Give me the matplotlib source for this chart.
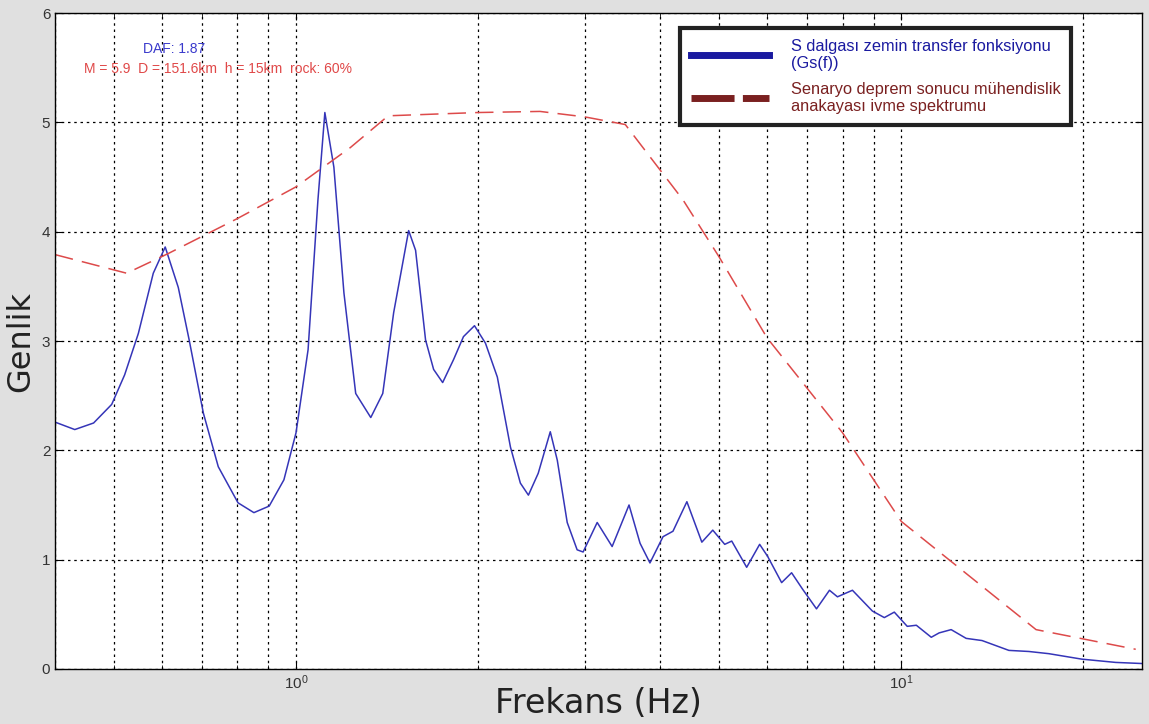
import numpy as np
import matplotlib.pyplot as plt
from matplotlib.lines import Line2D
from matplotlib.ticker import LogLocator, NullFormatter

plt.rcParams['font.family'] = ['Liberation Sans', 'DejaVu Sans']

# S-wave soil transfer function
freq_gs = [0.399, 0.431, 0.463, 0.496, 0.521, 0.549, 0.581, 0.608, 0.639, 0.666,
           0.703, 0.744, 0.802, 0.852, 0.903, 0.955, 1.0, 1.047, 1.087, 1.116,
           1.155, 1.200, 1.255, 1.329, 1.391, 1.450, 1.535, 1.576, 1.637, 1.688,
           1.747, 1.821, 1.891, 1.972, 2.056, 2.151, 2.261, 2.348, 2.421, 2.513,
           2.631, 2.702, 2.806, 2.914, 2.981, 3.145, 3.329, 3.550, 3.702, 3.844,
           4.040, 4.196, 4.424, 4.683, 4.882, 5.109, 5.247, 5.554, 5.835, 6.015,
           6.344, 6.589, 6.870, 7.244, 7.610, 7.845, 8.305, 8.960, 9.376, 9.739,
           10.23, 10.59, 11.21, 11.55, 12.09, 12.80, 13.60, 15.06, 16.25, 17.53,
           19.87, 22.61, 24.95]
amp_gs = [2.26, 2.19, 2.25, 2.42, 2.69, 3.07, 3.62, 3.86, 3.49, 3.01,
          2.34, 1.85, 1.52, 1.43, 1.49, 1.73, 2.16, 2.92, 4.29, 5.09,
          4.59, 3.44, 2.52, 2.30, 2.52, 3.26, 4.01, 3.83, 3.01, 2.74,
          2.62, 2.83, 3.04, 3.14, 2.98, 2.67, 2.03, 1.70, 1.59, 1.79,
          2.17, 1.91, 1.34, 1.09, 1.07, 1.34, 1.12, 1.50, 1.15, 0.97,
          1.21, 1.26, 1.53, 1.16, 1.27, 1.14, 1.17, 0.93, 1.14, 1.03,
          0.79, 0.88, 0.73, 0.55, 0.72, 0.66, 0.72, 0.53, 0.47, 0.52,
          0.39, 0.40, 0.29, 0.33, 0.36, 0.28, 0.26, 0.17, 0.16, 0.14,
          0.09, 0.06, 0.05]

# scenario earthquake bedrock acceleration spectrum
freq_sa = [0.40, 0.525, 0.615, 0.80, 1.0, 1.23, 1.42, 2.0, 2.53, 3.0, 3.5,
           4.36, 5.0, 6.0, 8.0, 10.0, 16.7, 24.4]
amp_sa = [3.79, 3.62, 3.80, 4.12, 4.41, 4.77, 5.06, 5.09, 5.10, 5.05, 4.98,
          4.29, 3.77, 3.03, 2.16, 1.35, 0.36, 0.18]

label_gs = "S dalgası zemin transfer fonksiyonu\n(Gs(f))"
label_sa = "Senaryo deprem sonucu mühendislik\nanakayası ivme spektrumu"

fig = plt.figure(figsize=(11.49, 7.24), dpi=100, facecolor='#e0e0e0')
ax = fig.add_axes([0.048, 0.076, 0.946, 0.906])
ax.set_facecolor('white')

ax.plot(freq_gs, amp_gs, color='#3535b8', lw=1.1)
ax.plot(freq_sa, amp_sa, color='#dd4a4a', lw=1.1, dashes=(12, 6))

ax.set_xscale('log')
ax.set_xlim(0.4, 25)
ax.set_ylim(0, 6)
ax.set_yticks(range(0, 7))
ax.xaxis.set_major_locator(LogLocator(base=10, numticks=5))
ax.xaxis.set_minor_locator(LogLocator(base=10, subs=np.arange(2, 10), numticks=20))
ax.xaxis.set_minor_formatter(NullFormatter())

ax.grid(True, which='both', axis='x', color='black', linestyle=(0, (2, 3)), lw=0.9)
ax.grid(True, which='major', axis='y', color='black', linestyle=(0, (2, 3)), lw=0.9)
ax.tick_params(which='both', direction='in', top=True, right=True, labelsize=11,
               labelcolor='#333333')
ax.tick_params(which='major', length=5)
ax.tick_params(which='minor', length=3)
for s in ax.spines.values():
    s.set_linewidth(1.0)

ax.set_xlabel('Frekans (Hz)', fontsize=24, color='#222222', labelpad=-4,
              family='DejaVu Sans')
ax.set_ylabel('Genlik', fontsize=23, color='#222222', labelpad=4,
              family='DejaVu Sans')

ax.text(0.081, 0.945, 'DAF: 1.87', transform=ax.transAxes, color='#3a3acc',
        fontsize=10, va='center')
ax.text(0.027, 0.915, 'M = 5.9  D = 151.6km  h = 15km  rock: 60%',
        transform=ax.transAxes, color='#e04848', fontsize=10, va='center')

handles = [Line2D([], [], color='#1a1aa0', lw=5),
           Line2D([], [], color='#7a2020', lw=5, dashes=(6.2, 1.2))]
leg = ax.legend(handles, [label_gs, label_sa], loc='upper left',
                bbox_to_anchor=(0.575, 0.977), borderaxespad=0, fontsize=11.8,
                handlelength=4.8, handletextpad=1.3, labelspacing=0.65,
                borderpad=0.65, fancybox=False, framealpha=1, edgecolor='#222222')
leg.get_frame().set_linewidth(3)
leg.get_texts()[0].set_color('#1a1aa0')
leg.get_texts()[1].set_color('#7a2020')

fig.savefig('out.png', dpi=100, facecolor=fig.get_facecolor())
